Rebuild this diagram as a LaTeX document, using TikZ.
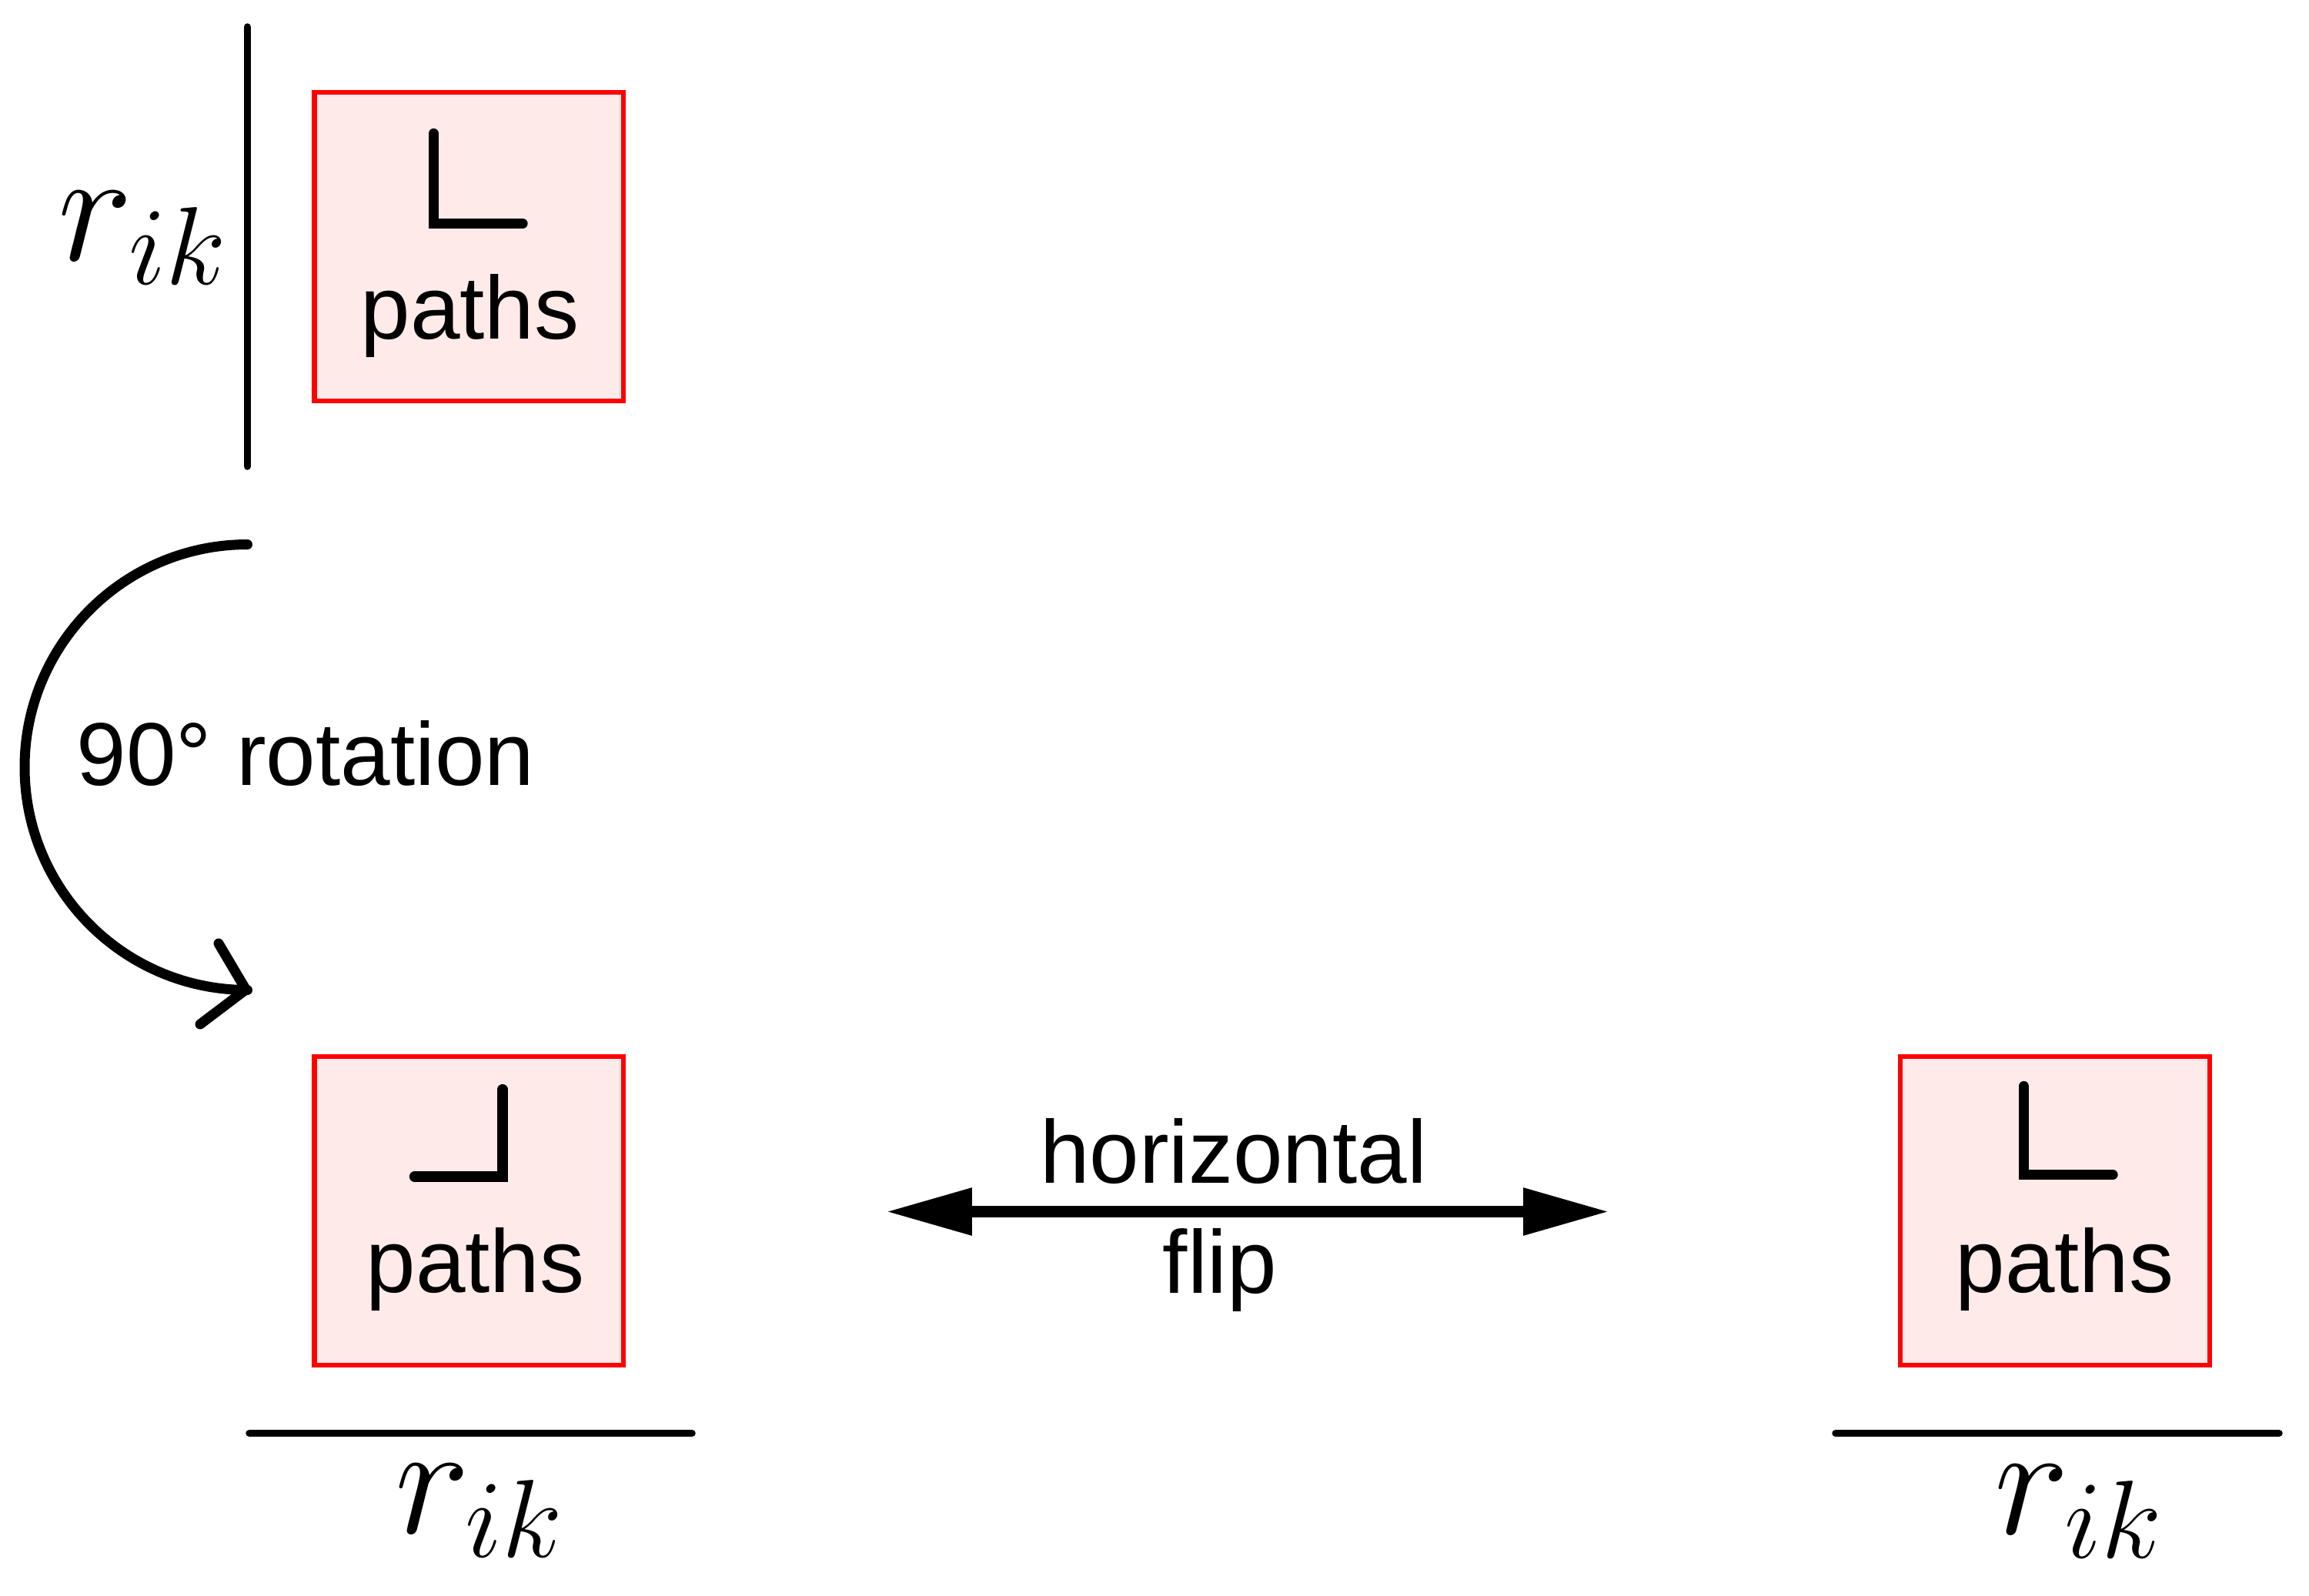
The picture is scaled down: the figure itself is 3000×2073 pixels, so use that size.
\documentclass[tikz,border=0pt]{standalone}
\usepackage{fontspec}
\setmainfont{Liberation Sans}
\usetikzlibrary{arrows.meta}
\definecolor{pinkfill}{RGB}{255,234,234}
\begin{document}
\begin{tikzpicture}[x=0.1pt,y=-0.1pt,
  pbox/.style={draw=red, fill=pinkfill, line width=0.62pt, minimum width=40.15pt, minimum height=40.1pt, inner sep=0pt, outer sep=0pt},
  lbl/.style={font=\fontsize{11.6}{13}\selectfont, inner sep=0pt, anchor=base},
  mlbl/.style={font=\fontsize{20}{24}\selectfont, inner sep=0pt, anchor=base},
  glyph/.style={line width=1.33pt, line cap=round, line join=miter},
  rulestroke/.style={line width=0.95pt, line cap=round},
  rotstroke/.style={line width=1.3pt, line cap=round, line join=miter},
  fliptip/.tip={Triangle[length=11.2pt,width=5.8pt]}
]
\useasboundingbox (0,0) rectangle (3000,2073);
% boxes
\node[pbox] (b1) at (609.3,320.5) {};
\node[pbox] (b2) at (609.3,1573.5) {};
\node[pbox] (b3) at (2670,1573.5) {};
% corner glyphs
\draw[glyph] (563.3,173.5) -- (563.3,290.5) -- (679,290.5);
\draw[glyph] (653,1415.5) -- (653,1529) -- (538.5,1529);
\draw[glyph] (2629.5,1411.5) -- (2629.5,1526.5) -- (2745,1526.5);
% labels in boxes
\node[lbl] (p1) at (610.5,440) {paths};
\node[lbl] (p2) at (617.5,1679) {paths};
\node[lbl] (p3) at (2682.5,1679) {paths};
% r_ik labels
\node[mlbl] (r1) at (187,338) {$r_{ik}$};
\node[mlbl] (r2) at (624.5,1992) {$r_{ik}$};
\node[mlbl] (r3) at (2702.5,1993) {$r_{ik}$};
% rules
\coordinate (v1) at (321.3,35); \coordinate (v2) at (321.3,606);
\draw[rulestroke] (v1) -- (v2);
\coordinate (h1a) at (324,1862.5); \coordinate (h1b) at (899,1862.5);
\draw[rulestroke] (h1a) -- (h1b);
\coordinate (h2a) at (2385,1862.5); \coordinate (h2b) at (2961,1862.5);
\draw[rulestroke] (h2a) -- (h2b);
% rotation arrow
\coordinate (rt) at (321.5,707.5);
\draw[rotstroke] (rt) arc[start angle=270, end angle=90, radius=289.5];
\coordinate (tip) at (319.5,1286);
\coordinate (a1) at (284,1226);
\coordinate (a2) at (260,1331);
\draw[rotstroke] (a1) -- (tip) -- (a2);
\node[lbl] (rotlbl) at (397,1020) {90° rotation};
% flip arrow
\coordinate (fl) at (1151,1574.5);
\coordinate (fr) at (2091,1574.5);
\draw[line width=1.55pt, fliptip-fliptip] (fl) -- (fr);
\node[lbl] (hz) at (1602.5,1537) {horizontal};
\node[lbl] (fp) at (1585,1680) {flip};
\end{tikzpicture}
\end{document}
